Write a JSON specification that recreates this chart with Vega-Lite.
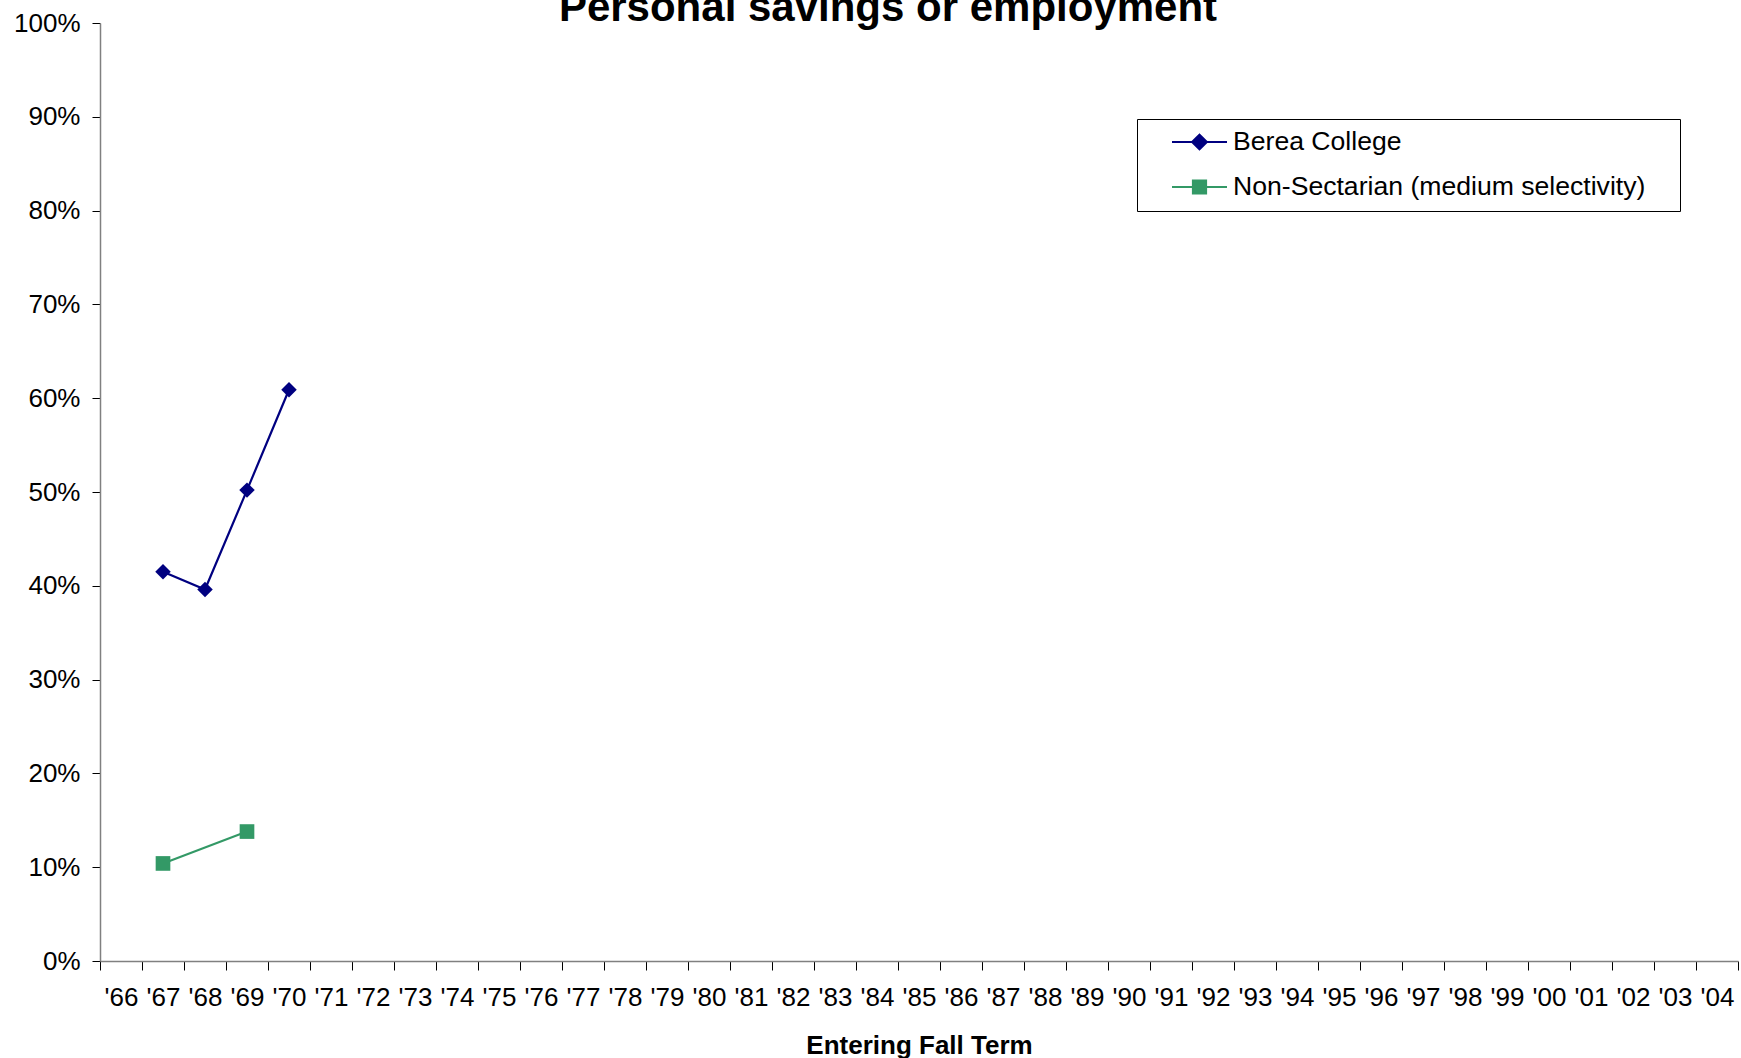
{
  "$schema": "https://vega.github.io/schema/vega-lite/v6.json",
  "width": 1638,
  "height": 938,
  "autosize": "none",
  "padding": {"left": 100, "top": 23, "right": 3, "bottom": 97},
  "background": "white",
  "config": {
    "font": "Liberation Sans",
    "view": {"stroke": null},
    "axis": {"labelFont": "Liberation Sans", "titleFont": "Liberation Sans", "labelColor": "black", "titleColor": "black", "domainColor": "#808080", "domainWidth": 1.5, "tickColor": "#000000", "tickWidth": 1},
    "legend": {
      "orient": "none",
      "legendX": 1037,
      "legendY": 96,
      "symbolSize": 3025,
      "symbolStrokeWidth": 2,
      "symbolOpacity": 1,
      "labelFontSize": 26.6,
      "labelFont": "Liberation Sans",
      "labelColor": "black",
      "labelLimit": 0,
      "padding": 10,
      "strokeColor": "black",
      "fillColor": "white",
      "rowPadding": 18,
      "symbolOffset": 24,
      "labelOffset": 5,
      "clipHeight": 26,
      "titleOrient": "right",
      "titleFontSize": 1,
      "titlePadding": 25
    }
  },
  "title": {
    "text": "Personal savings or employment",
    "fontSize": 42,
    "fontWeight": "bold",
    "font": "Liberation Sans",
    "color": "black",
    "anchor": "middle",
    "frame": "group",
    "dx": -31,
    "offset": -20
  },
  "data": {
    "values": [
      {"year": "'67", "series": "Berea College", "pct": 0.415},
      {"year": "'68", "series": "Berea College", "pct": 0.396},
      {"year": "'69", "series": "Berea College", "pct": 0.502},
      {"year": "'70", "series": "Berea College", "pct": 0.609},
      {"year": "'67", "series": "Non-Sectarian (medium selectivity)", "pct": 0.104},
      {"year": "'69", "series": "Non-Sectarian (medium selectivity)", "pct": 0.138}
    ]
  },
  "encoding": {
    "x": {
      "field": "year",
      "type": "ordinal",
      "scale": {
        "type": "band",
        "paddingInner": 0,
        "paddingOuter": 0,
        "domain": ["'66","'67","'68","'69","'70","'71","'72","'73","'74","'75","'76","'77","'78","'79","'80","'81","'82","'83","'84","'85","'86","'87","'88","'89","'90","'91","'92","'93","'94","'95","'96","'97","'98","'99","'00","'01","'02","'03","'04"]
      },
      "axis": {
        "title": "Entering Fall Term",
        "titleFontSize": 26,
        "titleFontWeight": "bold",
        "titlePadding": 22,
        "labelAngle": 0,
        "labelFontSize": 26,
        "labelPadding": 14,
        "labelOverlap": false,
        "tickBand": "extent",
        "tickSize": 9,
        "grid": false
      }
    },
    "y": {
      "field": "pct",
      "type": "quantitative",
      "scale": {"domain": [0, 1]},
      "axis": {
        "title": null,
        "format": ".0%",
        "values": [0, 0.1, 0.2, 0.3, 0.4, 0.5, 0.6, 0.7, 0.8, 0.9, 1],
        "labelFontSize": 26,
        "labelPadding": 12,
        "tickSize": 8,
        "grid": false
      }
    }
  },
  "layer": [
    {
      "transform": [{"filter": "datum.series === 'Berea College'"}],
      "mark": {"type": "line", "strokeWidth": 2.2, "color": "#000080"}
    },
    {
      "transform": [{"filter": "datum.series !== 'Berea College'"}],
      "mark": {"type": "line", "strokeWidth": 2.2, "color": "#339966"}
    },
    {
      "transform": [{"filter": "datum.series === 'Berea College'"}],
      "mark": {"type": "point", "shape": "diamond", "filled": true, "size": 240, "color": "#000080", "opacity": 1}
    },
    {
      "transform": [{"filter": "datum.series !== 'Berea College'"}],
      "mark": {"type": "point", "shape": "square", "filled": true, "size": 215, "color": "#339966", "opacity": 1}
    },
    {
      "mark": {"type": "point", "filled": true, "opacity": 0},
      "encoding": {
        "fill": {
          "field": "series",
          "type": "nominal",
          "scale": {"domain": ["Berea College", "Non-Sectarian (medium selectivity)"], "range": ["#000080", "#339966"]},
          "legend": {"title": "\u00a0"}
        },
        "stroke": {
          "field": "series",
          "type": "nominal",
          "scale": {"domain": ["Berea College", "Non-Sectarian (medium selectivity)"], "range": ["#000080", "#339966"]},
          "legend": {"title": "\u00a0"}
        },
        "shape": {
          "field": "series",
          "type": "nominal",
          "scale": {
            "domain": ["Berea College", "Non-Sectarian (medium selectivity)"],
            "range": ["M-1,0H1M-0.27,0L0,-0.27L0.27,0L0,0.27Z", "M-1,0H1M-0.24,-0.24H0.24V0.24H-0.24Z"]
          },
          "legend": {"title": "\u00a0"}
        }
      }
    }
  ]
}
